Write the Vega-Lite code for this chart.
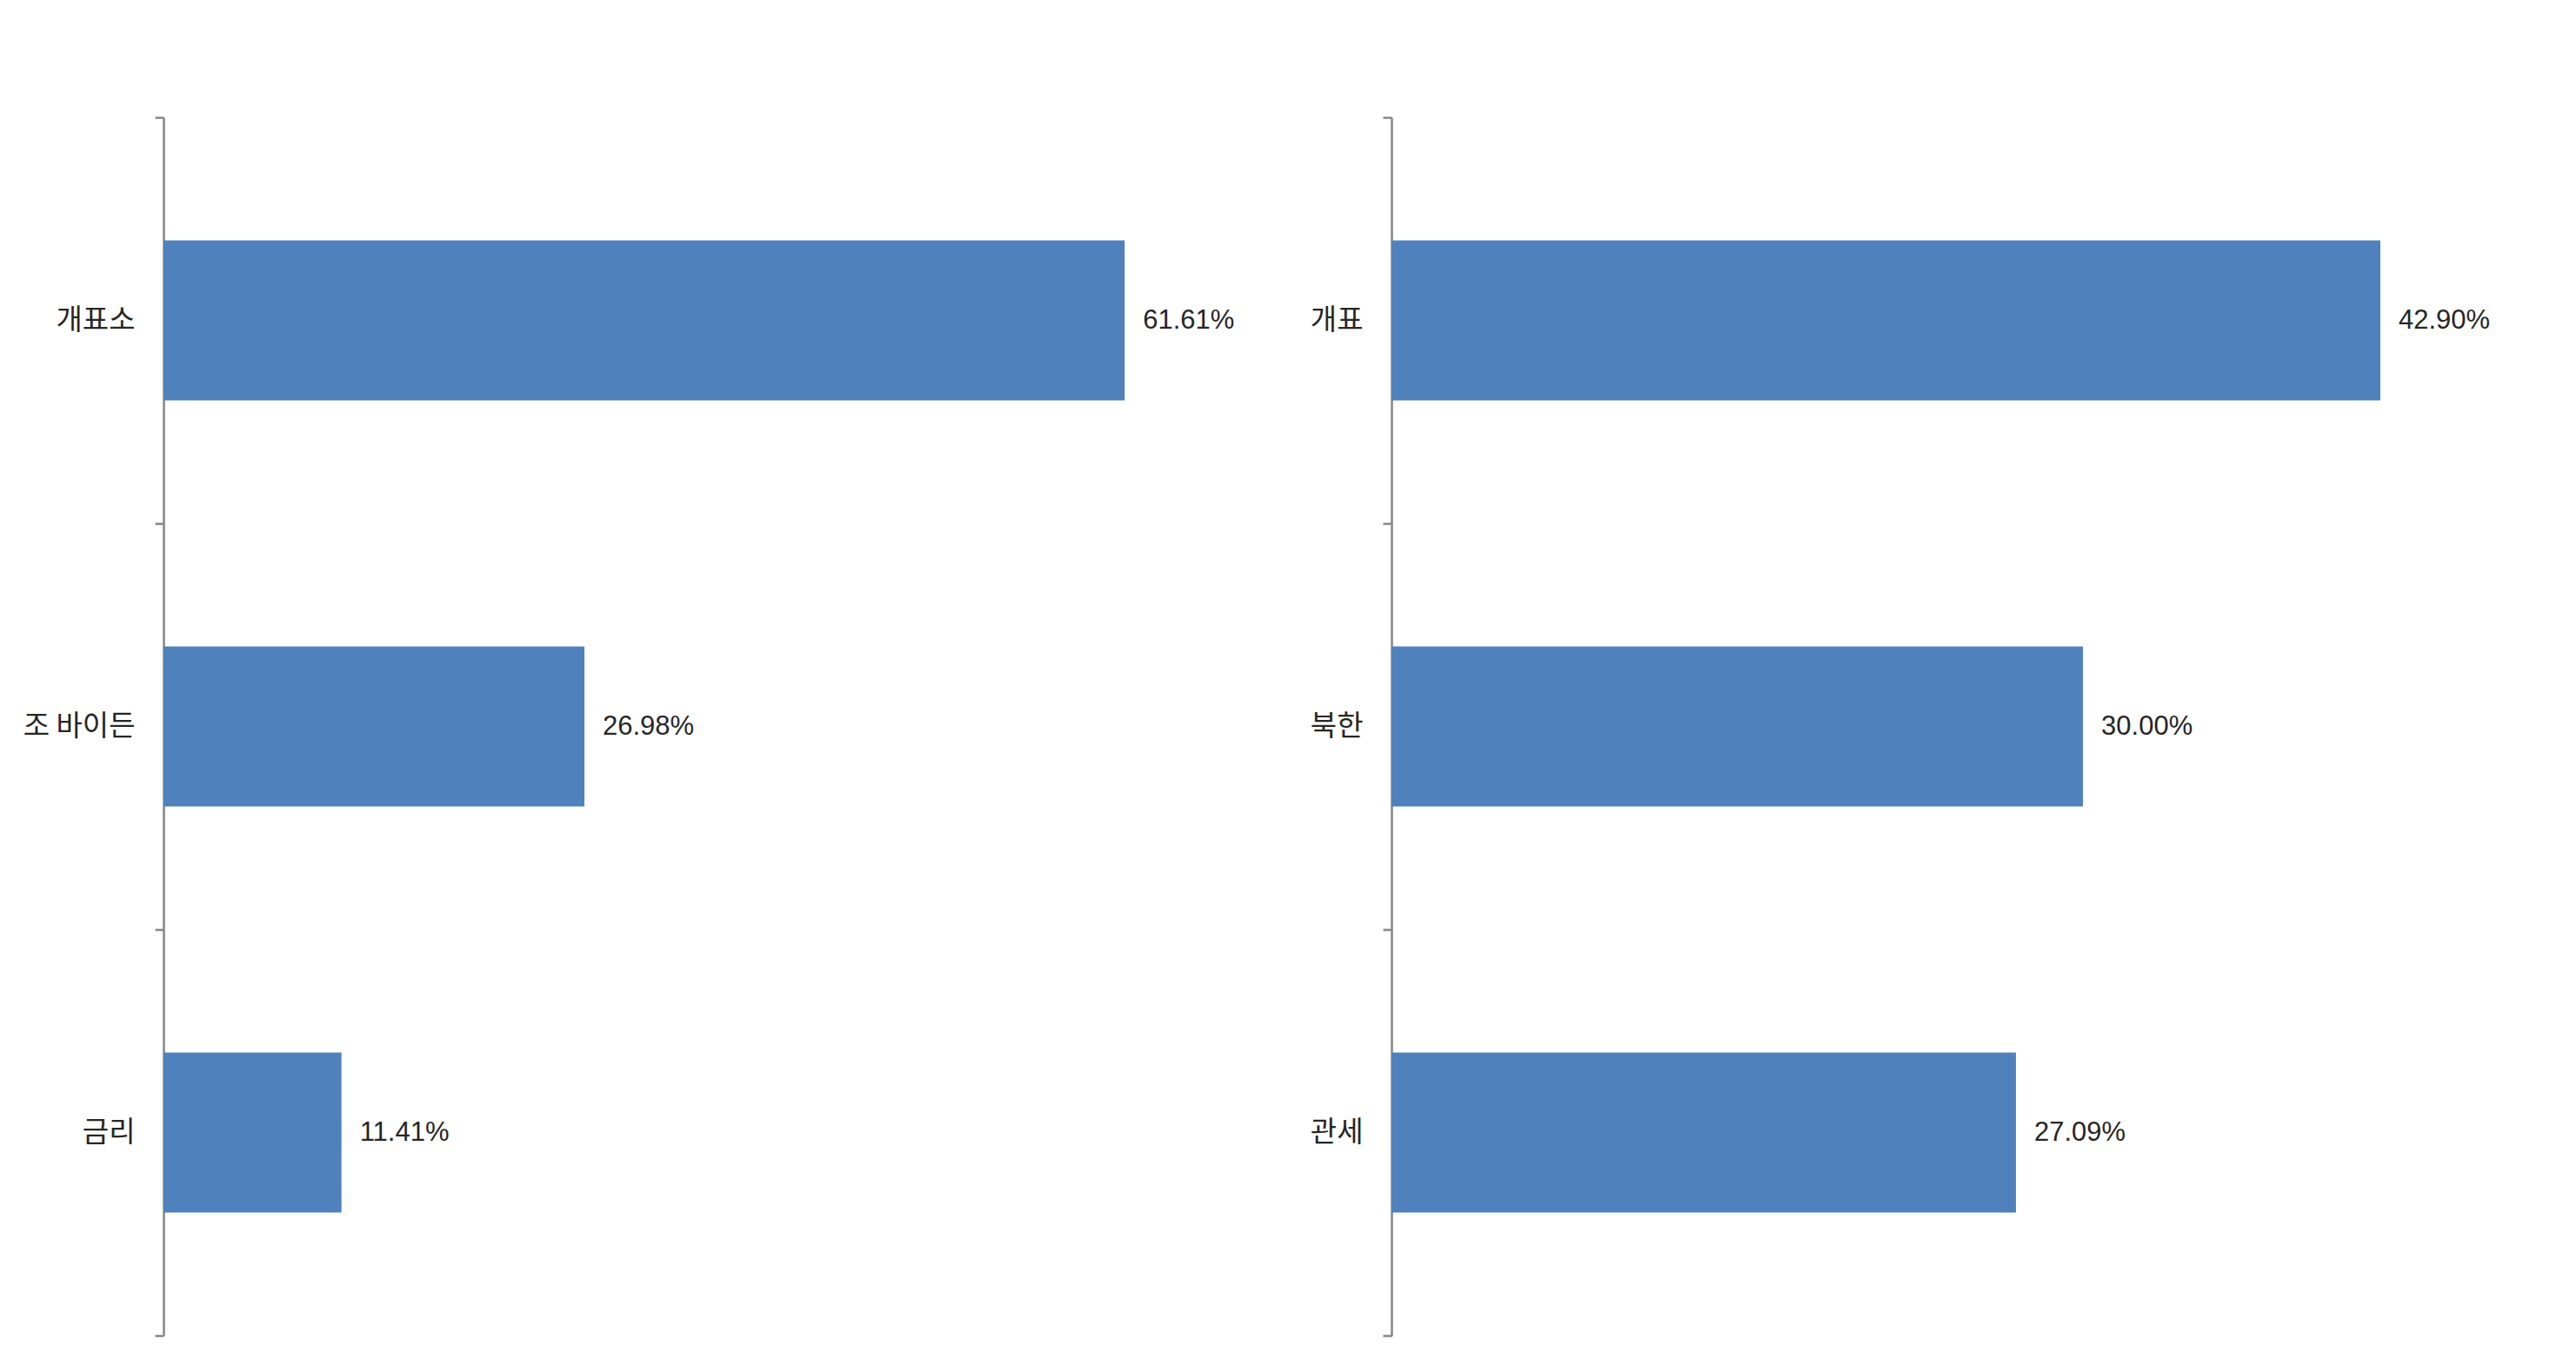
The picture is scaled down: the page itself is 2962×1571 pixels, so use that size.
{
  "$schema": "https://vega.github.io/schema/vega-lite/v6.json",
  "padding": {"top": 119, "left": 26, "right": 0, "bottom": 0},
  "background": "white",
  "config": {
    "view": {"stroke": null},
    "concat": {"spacing": 58},
    "axisY": {
      "domainColor": "#868686",
      "domainWidth": 2.5,
      "tickColor": "#868686",
      "tickWidth": 2.5,
      "tickSize": 10,
      "tickBand": "extent",
      "labelPadding": 23,
      "labelFont": "Noto Sans CJK KR",
      "labelFontSize": 33,
      "labelColor": "#262626",
      "grid": false
    },
    "text": {"font": "Liberation Sans", "fontSize": 31, "color": "#262626"}
  },
  "hconcat": [
    {
      "width": 1260,
      "height": 1401,
      "data": {
        "values": [
          {"label": "개표소", "share": 0.6161},
          {"label": "조 바이든", "share": 0.2698},
          {"label": "금리", "share": 0.1141}
        ]
      },
      "encoding": {
        "y": {
          "field": "label",
          "type": "nominal",
          "sort": null,
          "title": null,
          "scale": {"paddingInner": 0, "paddingOuter": 0}
        },
        "x": {
          "field": "share",
          "type": "quantitative",
          "scale": {"domain": [0, 0.7024]},
          "axis": null
        }
      },
      "layer": [
        {"mark": {"type": "bar", "color": "#4F81BD", "height": {"band": 0.394}}},
        {
          "mark": {"type": "text", "align": "left", "baseline": "middle", "dx": 21},
          "encoding": {"text": {"field": "share", "type": "quantitative", "format": ".2%"}}
        }
      ]
    },
    {
      "width": 1300,
      "height": 1401,
      "data": {
        "values": [
          {"label": "개표", "share": 0.429},
          {"label": "북한", "share": 0.3},
          {"label": "관세", "share": 0.2709}
        ]
      },
      "encoding": {
        "y": {
          "field": "label",
          "type": "nominal",
          "sort": null,
          "title": null,
          "scale": {"paddingInner": 0, "paddingOuter": 0}
        },
        "x": {
          "field": "share",
          "type": "quantitative",
          "scale": {"domain": [0, 0.4905]},
          "axis": null
        }
      },
      "layer": [
        {"mark": {"type": "bar", "color": "#4F81BD", "height": {"band": 0.394}}},
        {
          "mark": {"type": "text", "align": "left", "baseline": "middle", "dx": 21},
          "encoding": {"text": {"field": "share", "type": "quantitative", "format": ".2%"}}
        }
      ]
    }
  ]
}
